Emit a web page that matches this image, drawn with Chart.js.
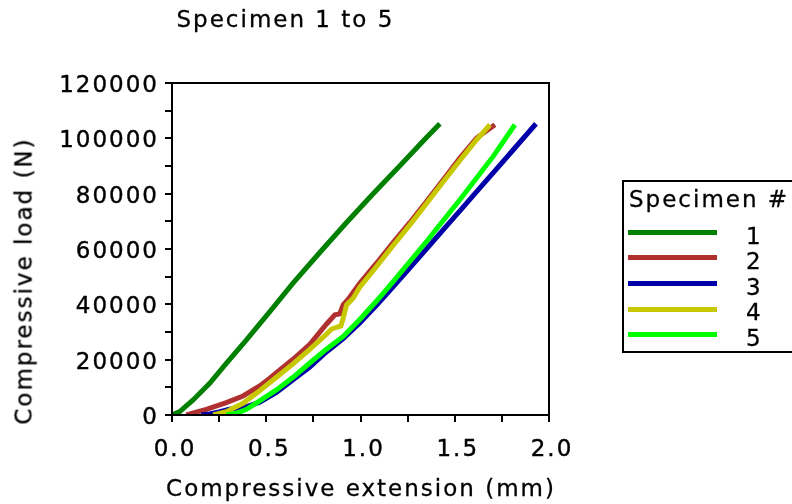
<!DOCTYPE html>
<html>
<head>
<meta charset="utf-8">
<script src="https://cdn.jsdelivr.net/npm/chart.js@4"></script>
<style>
  body { margin: 0; background: #fff; }
  #wrap { position: relative; width: 792px; height: 504px; overflow: hidden; font-family: 'DejaVu Sans', Verdana, sans-serif; color: #000; }
  #chart { position: absolute; left: 0; top: 0; }
  .txt { position: absolute; font-size: 23px; line-height: 23px; letter-spacing: 2px; white-space: nowrap; -webkit-text-stroke: 0.3px #000; }
  #legend { position: absolute; left: 622px; top: 180px; width: 200px; height: 173px; box-sizing: border-box; border: 2px solid #000; }
  .swatch { position: absolute; height: 5px; width: 89px; }
</style>
</head>
<body>
<div id="wrap">
  <canvas id="chart" width="792" height="504"></canvas>
  <div class="txt" style="left:176.5px; top:8px;">Specimen 1 to 5</div>
  <div class="txt" style="left:361px; top:477px; transform: translateX(-50%);">Compressive extension (mm)</div>
  <div class="txt" style="left:23.8px; top:281px; transform: translate(-50%, -50%) rotate(-90deg);">Compressive load (N)</div>
  <div id="legend"></div>
</div>
<script>
// Data
const specimenLabels = ['1', '2', '3', '4', '5'];

const ext1 = [0, 0.041, 0.112, 0.200, 0.288, 0.395, 0.519, 0.642, 0.784, 0.926, 1.067, 1.209, 1.350, 1.421];
const load1 = [0, 1210, 5430, 11460, 18690, 27140, 37390, 47640, 58730, 69580, 79950, 90080, 100330, 105270];

const ext2 = [0.076, 0.182, 0.288, 0.377, 0.465, 0.519, 0.572, 0.642, 0.731, 0.819, 0.864, 0.890, 0.908, 0.935, 0.996, 1.085, 1.173, 1.262, 1.350, 1.439, 1.527, 1.616, 1.713];
const load2 = [0, 2050, 4460, 6870, 10490, 13270, 16280, 20140, 25570, 32800, 36180, 36540, 39800, 41850, 47640, 54870, 62350, 69590, 77180, 85020, 92860, 100100, 104920];

const ext3 = [0.155, 0.200, 0.250, 0.300, 0.400, 0.465, 0.554, 0.642, 0.731, 0.819, 0.908, 0.996, 1.085, 1.173, 1.262, 1.361, 1.450, 1.540, 1.630, 1.720, 1.820, 1.931];
const load3 = [0, 400, 1100, 2000, 3100, 4600, 8200, 12700, 17300, 22800, 27600, 33300, 39700, 46300, 53200, 60900, 67800, 74800, 81800, 88800, 96600, 105270];

const ext4 = [0.218, 0.288, 0.377, 0.465, 0.554, 0.642, 0.731, 0.819, 0.846, 0.873, 0.896, 0.908, 0.926, 0.961, 0.996, 1.085, 1.173, 1.262, 1.350, 1.439, 1.527, 1.616, 1.687];
const load4 = [0, 1210, 4220, 8800, 13630, 18450, 23760, 29190, 31000, 31720, 32200, 34970, 39800, 42210, 46190, 53670, 61260, 68740, 76460, 84300, 92020, 99500, 104920];

const ext5 = [0.288, 0.342, 0.395, 0.465, 0.554, 0.642, 0.731, 0.819, 0.908, 0.996, 1.085, 1.173, 1.262, 1.350, 1.439, 1.527, 1.616, 1.704, 1.819];
const load5 = [0, 600, 2050, 5070, 9050, 13630, 18800, 23800, 28400, 34500, 41200, 48240, 55480, 62710, 70310, 77790, 85630, 93470, 104920];

const extensions = [ext1, ext2, ext3, ext4, ext5];
const loads = [load1, load2, load3, load4, load5];

const colors = ['#008000', '#b03030', '#0000a8', '#c8c800', '#00ff00'];

const FONT = { family: "'DejaVu Sans', Verdana, sans-serif", size: 23 };

// canvas has no letter-spacing option in Chart.js, so set it on the context
const spacing = {
    id: 'spacing',
    beforeUpdate(chart) { chart.ctx.letterSpacing = '2px'; },
    beforeDraw(chart) { chart.ctx.letterSpacing = '2px'; }
};

// closed box round the plot area
const frame = {
    id: 'frame',
    afterDraw(chart) {
        const { ctx, chartArea: a } = chart;
        ctx.save();
        ctx.strokeStyle = '#000';
        ctx.lineWidth = 2;
        ctx.strokeRect(a.left, a.top, a.right - a.left, a.bottom - a.top);
        ctx.restore();
    }
};

const datasets = specimenLabels.map((label, i) => ({
    label: label,
    data: extensions[i].map((x, j) => ({ x: x, y: loads[i][j] })),
    showLine: true,
    borderColor: colors[i],
    backgroundColor: colors[i],
    borderWidth: 5,
    pointRadius: 0,
    tension: 0,
    order: 5 - i
}));

new Chart(document.getElementById('chart').getContext('2d'), {
    type: 'scatter',
    data: { datasets: datasets },
    options: {
        responsive: false,
        animation: false,
        layout: { padding: { left: 0, right: 243, top: 83, bottom: 0 } },
        plugins: {
            legend: { display: false },
            tooltip: { enabled: false }
        },
        scales: {
            x: {
                type: 'linear',
                min: 0,
                max: 2,
                afterFit: (s) => { s.height = 89; },
                border: { color: '#000', width: 2 },
                grid: { drawOnChartArea: false, tickLength: 7, color: '#000', lineWidth: 2 },
                ticks: {
                    stepSize: 0.25,
                    autoSkip: false,
                    maxRotation: 0,
                    padding: 14,
                    labelOffset: 3,
                    color: '#000',
                    textStrokeColor: '#000',
                    textStrokeWidth: 0.4,
                    font: FONT,
                    callback: (v) => (Math.round(v * 100) % 50 === 0 ? v.toFixed(1) : '')
                }
            },
            y: {
                min: 0,
                max: 120000,
                afterFit: (s) => { s.width = 172; },
                border: { color: '#000', width: 2 },
                grid: { drawOnChartArea: false, tickLength: 7, color: '#000', lineWidth: 2 },
                ticks: {
                    stepSize: 10000,
                    autoSkip: false,
                    padding: 6,
                    labelOffset: 3,
                    color: '#000',
                    textStrokeColor: '#000',
                    textStrokeWidth: 0.4,
                    font: FONT,
                    callback: (v) => (v % 20000 === 0 ? String(v) : '')
                }
            }
        }
    },
    plugins: [spacing, frame]
});

// Legend box
const legend = document.getElementById('legend');
legend.innerHTML = '<div class="txt" style="left:5px; top:6px;">Specimen #</div>' +
    specimenLabels.map((label, i) => {
        const cy = 50.3 + i * 25.6;
        return `<div class="swatch" style="left:4px; top:${cy - 2.5}px; background:${colors[i]};"></div>` +
               `<div class="txt" style="left:122px; top:${cy - 7.7}px;">${label}</div>`;
    }).join('');
</script>
</body>
</html>
